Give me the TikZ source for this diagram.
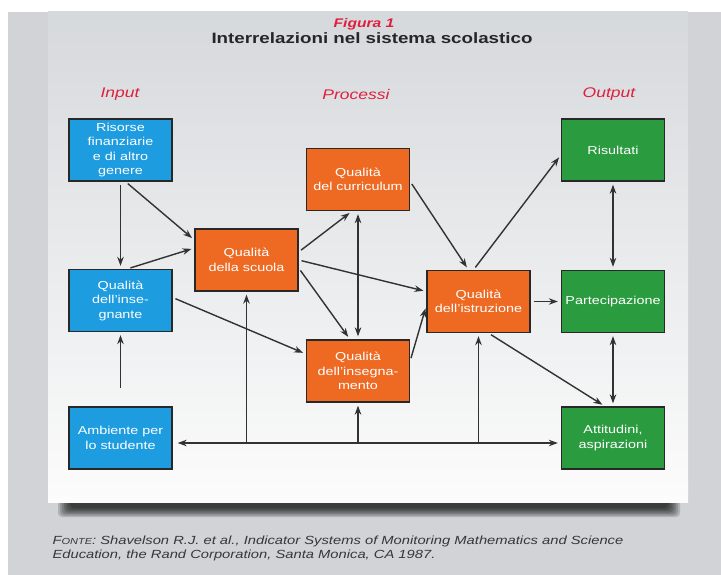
\documentclass[tikz,border=0pt]{standalone}
\usepackage{fontspec}
\setmainfont{Liberation Sans}[FakeStretch=1.25]
\usetikzlibrary{arrows.meta}

\definecolor{azzurro}{RGB}{30,156,224}
\definecolor{arancio}{RGB}{238,106,35}
\definecolor{verde}{RGB}{43,155,63}
\definecolor{rosso}{RGB}{222,32,62}
\definecolor{bordo}{RGB}{40,40,40}
\definecolor{linea}{RGB}{50,50,50}
\definecolor{grigiofondo}{RGB}{209,211,214}
\definecolor{pannellosu}{RGB}{214,217,220}
\definecolor{pannellogiu}{RGB}{252,252,252}
\definecolor{testonota}{RGB}{55,55,55}

\tikzset{
  box/.style={draw=bordo, line width=1.3pt, minimum width=103pt, minimum height=62pt,
    text=white, align=center, inner sep=1pt, font=\fontsize{11.5}{14.5}\selectfont},
  inbox/.style={box, fill=azzurro},
  procbox/.style={box, fill=arancio},
  outbox/.style={box, fill=verde},
  colonna/.style={text=rosso, font=\fontsize{14}{16}\selectfont\itshape},
  freccia/.style={draw=linea, line width=1.4pt, -{Stealth[length=9pt,width=6.5pt]},
    shorten >=3pt, shorten <=3pt},
  doppia/.style={freccia, {Stealth[length=9pt,width=6.5pt]}-{Stealth[length=9pt,width=6.5pt]}},
}

\begin{document}
\begin{tikzpicture}[x=1pt, y=-1pt]
    \useasboundingbox (0,0) rectangle (721,575);

    % Sfondo grigio e pannello sfumato
    \fill[white] (0,0) rectangle (721,575);
    \fill[grigiofondo] (8,12) rectangle (721,575);
    \foreach \d in {0,1,...,6}
      \fill[black, opacity=0.16, rounded corners=4pt] (58+2*\d,494) rectangle (680-2*\d,517-1.5*\d);
    \shade[top color=pannellosu, bottom color=pannellogiu] (48,12) rectangle (688,502);

    % Titolo
    \node[anchor=base, text=rosso, font=\fontsize{12.5}{14}\selectfont\bfseries\itshape] (figura) at (364,28) {Figura 1};
    \node[anchor=base, text=black!85, font=\fontsize{15}{17}\selectfont\bfseries] (titolo) at (372,44) {Interrelazioni nel sistema scolastico};

    % Intestazioni delle colonne
    \node[colonna] (input) at (120,94) {Input};
    \node[colonna] (processi) at (356,94) {Processi};
    \node[colonna] (output) at (609,94) {Output};

    % Input
    \node[inbox] (risorse) at (120.5,150) {Risorse\\finanziarie\\e di altro\\genere};
    \node[inbox] (insegnante) at (120.5,300.5) {Qualità\\dell'inse-\\gnante};
    \node[inbox] (ambiente) at (120.5,438) {Ambiente per\\lo studente};

    % Processi
    \node[procbox] (scuola) at (246.5,260) {Qualità\\della scuola};
    \node[procbox] (curriculum) at (358,179.5) {Qualità\\del curriculum};
    \node[procbox] (insegnamento) at (358,371) {Qualità\\dell'insegna-\\mento};
    \node[procbox] (istruzione) at (478.5,301.5) {Qualità\\dell'istruzione};

    % Output
    \node[outbox] (risultati) at (613,150) {Risultati};
    \node[outbox] (partecipazione) at (613,301.5) {Partecipazione};
    \node[outbox] (attitudini) at (613,438) {Attitudini,\\aspirazioni};

    % Frecce a sinistra
    \draw[freccia] (risorse) -- (insegnante);
    \draw[freccia] ([xshift=5pt]risorse.south) -- ([yshift=20pt]scuola.west);
    \draw[freccia] ([xshift=7pt]insegnante.north) -- ([yshift=12pt]scuola.west);
    \draw[freccia] ([yshift=3pt]insegnante.east) -- ([yshift=17pt]insegnamento.west);
    \draw[freccia, shorten <=18pt] (ambiente) -- (insegnante);

    % Linea comune in basso
    \coordinate (bus) at (0,443);
    \draw[doppia, shorten <=5pt] (ambiente.east |- bus) -- (attitudini.west |- bus);
    \draw[freccia, shorten <=0pt] (scuola.south |- bus) -- (scuola.south);
    \draw[freccia, shorten <=0pt] (insegnamento.south |- bus) -- (insegnamento.south);
    \draw[freccia, shorten <=0pt] (istruzione.south |- bus) -- (istruzione.south);

    % Frecce tra i processi
    \draw[freccia] ([yshift=8pt]scuola.east) -- ([xshift=-6pt]curriculum.south);
    \draw[freccia] ([yshift=-8pt]scuola.east) -- ([xshift=-8pt]insegnamento.north);
    \draw[freccia] (scuola.east) -- ([yshift=10pt]istruzione.west);
    \draw[doppia] (curriculum) -- (insegnamento);
    \draw[freccia] ([yshift=-2pt]curriculum.east) -- ([xshift=-10pt]istruzione.north);
    \draw[freccia] ([yshift=10pt]insegnamento.east) -- ([yshift=-4pt]istruzione.west);

    % Verso gli output
    \draw[freccia] ([xshift=-5pt]istruzione.north) -- ([yshift=-5pt]risultati.west);
    \draw[freccia] (istruzione) -- (partecipazione);
    \draw[freccia] ([xshift=10pt]istruzione.south) -- ([xshift=-8pt]attitudini.north);
    \draw[doppia] (risultati) -- (partecipazione);
    \draw[doppia] (partecipazione) -- (attitudini);

    % Fonte
    \node[anchor=base west, align=left, text=testonota, font=\fontsize{11.8}{13.5}\selectfont\itshape] (fonte) at (49,558)
      {F{\fontsize{8.8}{13.5}\selectfont ONTE}: Shavelson R.J. et al., Indicator Systems of Monitoring Mathematics and Science\\Education, the Rand Corporation, Santa Monica, CA 1987.};
\end{tikzpicture}
\end{document}
